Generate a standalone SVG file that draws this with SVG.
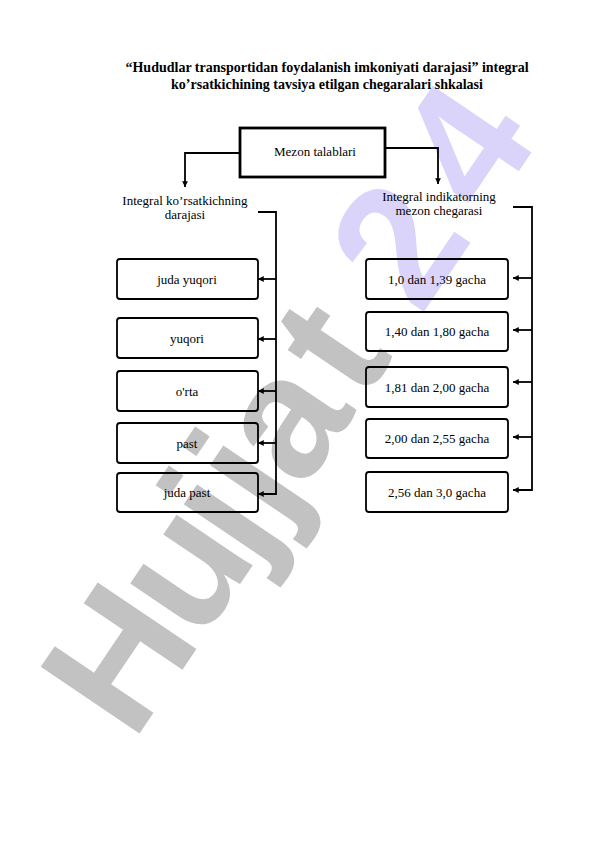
<svg xmlns="http://www.w3.org/2000/svg" width="596" height="842" viewBox="0 0 596 842">
<style>
.t{font-family:"Liberation Serif","Times New Roman",serif;font-size:13px;fill:#000;text-anchor:middle}
.ttl{font-weight:bold;font-size:14px}
.box{fill:none;stroke:#000;stroke-width:1.8}
.main{fill:none;stroke:#000;stroke-width:2.8}
.ln{fill:none;stroke:#000;stroke-width:1.8}
.wm{font-family:"Liberation Sans",Arial,sans-serif;font-weight:bold;font-size:173px}
</style>
<defs>
<marker id="ah" viewBox="0 0 10 10" refX="10" refY="5" markerWidth="3.2" markerHeight="3.2" orient="auto" markerUnits="strokeWidth">
<path d="M0,0 L10,5 L0,10 z" fill="#000"/>
</marker>
</defs>
<rect width="596" height="842" fill="#fff"/>
<g id="watermark">
<text class="wm" transform="translate(133,743) rotate(-56)"><tspan fill="#c2c2c2" x="0 120 214 261 304 410">Hujjat</tspan><tspan fill="#dad4fb" x="514 633">24</tspan></text>
</g>
<g id="title">
<text class="t ttl" x="327" y="72">“Hududlar transportidan foydalanish imkoniyati darajasi” integral</text>
<text class="t ttl" x="327" y="89">ko’rsatkichining tavsiya etilgan chegaralari shkalasi</text>
</g>
<g id="connectors">
<path class="ln" d="M240,153 H185 V187" marker-end="url(#ah)"/>
<path class="ln" d="M385,148 H438 V184" marker-end="url(#ah)"/>
<path class="ln" d="M258,212 H276 V494 H258" marker-end="url(#ah)"/>
<path class="ln" d="M276,279 H258" marker-end="url(#ah)"/>
<path class="ln" d="M276,339 H258" marker-end="url(#ah)"/>
<path class="ln" d="M276,391 H258" marker-end="url(#ah)"/>
<path class="ln" d="M276,443 H258" marker-end="url(#ah)"/>
<path class="ln" d="M513,207 H532 V490 H513" marker-end="url(#ah)"/>
<path class="ln" d="M532,278 H513" marker-end="url(#ah)"/>
<path class="ln" d="M532,330 H513" marker-end="url(#ah)"/>
<path class="ln" d="M532,382 H513" marker-end="url(#ah)"/>
<path class="ln" d="M532,437 H513" marker-end="url(#ah)"/>
</g>
<g id="mezon">
<rect class="main" x="240" y="128" width="145" height="49"/>
<text class="t" x="315" y="156">Mezon talablari</text>
</g>
<g id="left-header">
<text class="t" x="185" y="205">Integral ko’rsatkichning</text>
<text class="t" x="185" y="219">darajasi</text>
</g>
<g id="right-header">
<text class="t" x="439" y="201">Integral indikatorning</text>
<text class="t" x="439" y="215">mezon chegarasi</text>
</g>
<g id="l1"><rect class="box" x="117" y="259" width="141" height="40" rx="3"/><text class="t" x="187" y="284">juda yuqori</text></g>
<g id="l2"><rect class="box" x="117" y="318" width="141" height="40" rx="3"/><text class="t" x="187" y="343">yuqori</text></g>
<g id="l3"><rect class="box" x="117" y="371" width="141" height="40" rx="3"/><text class="t" x="187" y="396">o'rta</text></g>
<g id="l4"><rect class="box" x="117" y="423" width="141" height="40" rx="3"/><text class="t" x="187" y="448">past</text></g>
<g id="l5"><rect class="box" x="117" y="473" width="141" height="39" rx="3"/><text class="t" x="187" y="497">juda past</text></g>
<g id="r1"><rect class="box" x="366" y="259" width="142" height="40" rx="3"/><text class="t" x="437" y="284">1,0 dan 1,39 gacha</text></g>
<g id="r2"><rect class="box" x="366" y="312" width="142" height="39" rx="3"/><text class="t" x="437" y="336">1,40 dan 1,80 gacha</text></g>
<g id="r3"><rect class="box" x="366" y="367" width="142" height="40" rx="3"/><text class="t" x="437" y="392">1,81 dan 2,00 gacha</text></g>
<g id="r4"><rect class="box" x="366" y="419" width="142" height="39" rx="3"/><text class="t" x="437" y="443">2,00 dan 2,55 gacha</text></g>
<g id="r5"><rect class="box" x="366" y="472" width="142" height="40" rx="3"/><text class="t" x="437" y="497">2,56 dan 3,0 gacha</text></g>
</svg>
